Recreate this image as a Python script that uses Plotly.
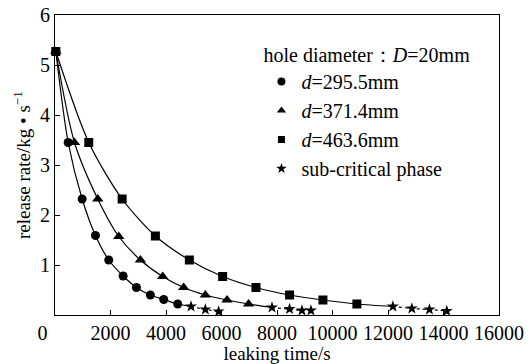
import plotly.graph_objects as go

# circle series d=295.5mm
c_x = [30, 475, 979, 1458, 1938, 2455, 2934, 3438, 3918, 4422]
c_y = [5.27, 3.45, 2.32, 1.59, 1.10, 0.78, 0.55, 0.40, 0.31, 0.22]
c_sx = [4902, 5418, 5897]
c_sy = [0.17, 0.11, 0.07]

# triangle series d=371.4mm
t_x = [30, 702, 1541, 2297, 3078, 3881, 4637, 5418, 6199, 6977]
t_y = [5.27, 3.45, 2.32, 1.57, 1.10, 0.77, 0.55, 0.40, 0.30, 0.22]
t_sx = [7819, 8453, 8899, 9223]
t_sy = [0.15, 0.12, 0.09, 0.09]

# square series d=463.6mm
s_x = [30, 1217, 2419, 3618, 4842, 6041, 7243, 8453, 9655, 10879]
s_y = [5.27, 3.45, 2.32, 1.58, 1.10, 0.77, 0.55, 0.40, 0.30, 0.22]
s_sx = [12175, 12859, 13493, 14119]
s_sy = [0.17, 0.13, 0.11, 0.08]

x_ticks = [0, 2000, 4000, 6000, 8000, 10000, 12000, 14000, 16000]
x_labels = ["0\u00a0\u00a0\u00a0\u00a0\u00a0", "2000", "4000", "6000", "8000",
            "10000", "12000", "14000", "16000"]
y_ticks = [1, 2, 3, 4, 5, 6]

FONT = "Liberation Serif, Times New Roman, serif"
fig = go.Figure()

series = [
    (c_x, c_y, c_sx, c_sy, "circle", 9),
    (t_x, t_y, t_sx, t_sy, "triangle-up", 10),
    (s_x, s_y, s_sx, s_sy, "square", 9),
]
for xs, ys, sx, sy, sym, ms in series:
    fig.add_trace(go.Scatter(x=xs + sx[:1], y=ys + sy[:1], mode="lines",
                             line=dict(color="black", width=1.2, shape="spline", smoothing=0.8),
                             showlegend=False, hoverinfo="skip"))
    fig.add_trace(go.Scatter(x=xs, y=ys, mode="markers",
                             marker=dict(symbol=sym, size=ms, color="black"),
                             showlegend=False, cliponaxis=False))
    fig.add_trace(go.Scatter(x=sx, y=sy, mode="lines+markers",
                             line=dict(color="black", width=1.2, dash="dot"),
                             marker=dict(symbol="star", size=9, color="black"),
                             showlegend=False, cliponaxis=False))

for sym, name, ms in [("circle", "<i>d</i>=295.5mm", 8), ("triangle-up", "<i>d</i>=371.4mm", 8),
                      ("square", "<i>d</i>=463.6mm", 7), ("star", "sub-critical phase", 8)]:
    fig.add_trace(go.Scatter(x=[None], y=[None], mode="markers", name=name,
                             marker=dict(symbol=sym, size=ms, color="black"),
                             showlegend=True))

fig.update_layout(
    width=530, height=364,
    margin=dict(l=54.5, r=31, t=15, b=49),
    paper_bgcolor="white", plot_bgcolor="white",
    font=dict(family=FONT, size=20, color="black"),
    showlegend=True,
    legend=dict(x=0.465, y=0.93, xanchor="left", yanchor="top",
                bgcolor="rgba(0,0,0,0)", tracegroupgap=0,
                title=dict(text="hole diameter：<i>D</i>=20mm", font=dict(family=FONT, size=20)),
                font=dict(family=FONT, size=20), itemwidth=30),
    xaxis=dict(range=[0, 16000], tickvals=x_ticks, ticktext=x_labels,
               showgrid=False, zeroline=False, showline=True, linecolor="black", linewidth=1.2,
               mirror=True, ticks="inside", ticklen=5, tickcolor="black", automargin=False,
               ticklabeloverflow="allow",
               title=dict(text="leaking time/s", standoff=0, font=dict(size=19)),
               tickfont=dict(family=FONT, size=20)),
    yaxis=dict(range=[0, 6], tickvals=y_ticks, ticktext=[str(v) for v in y_ticks],
               showgrid=False, zeroline=False, showline=True, linecolor="black", linewidth=1.2,
               mirror=True, ticks="inside", ticklen=5, tickcolor="black", automargin=False,
               ticklabeloverflow="allow",
               title=dict(text="release rate/kg • s<sup>−1</sup>", standoff=4, font=dict(size=19)),
               tickfont=dict(family=FONT, size=20)),
)

fig.write_html("out.html", config={"displayModeBar": False},
               post_script="document.body.style.margin='0px';")
